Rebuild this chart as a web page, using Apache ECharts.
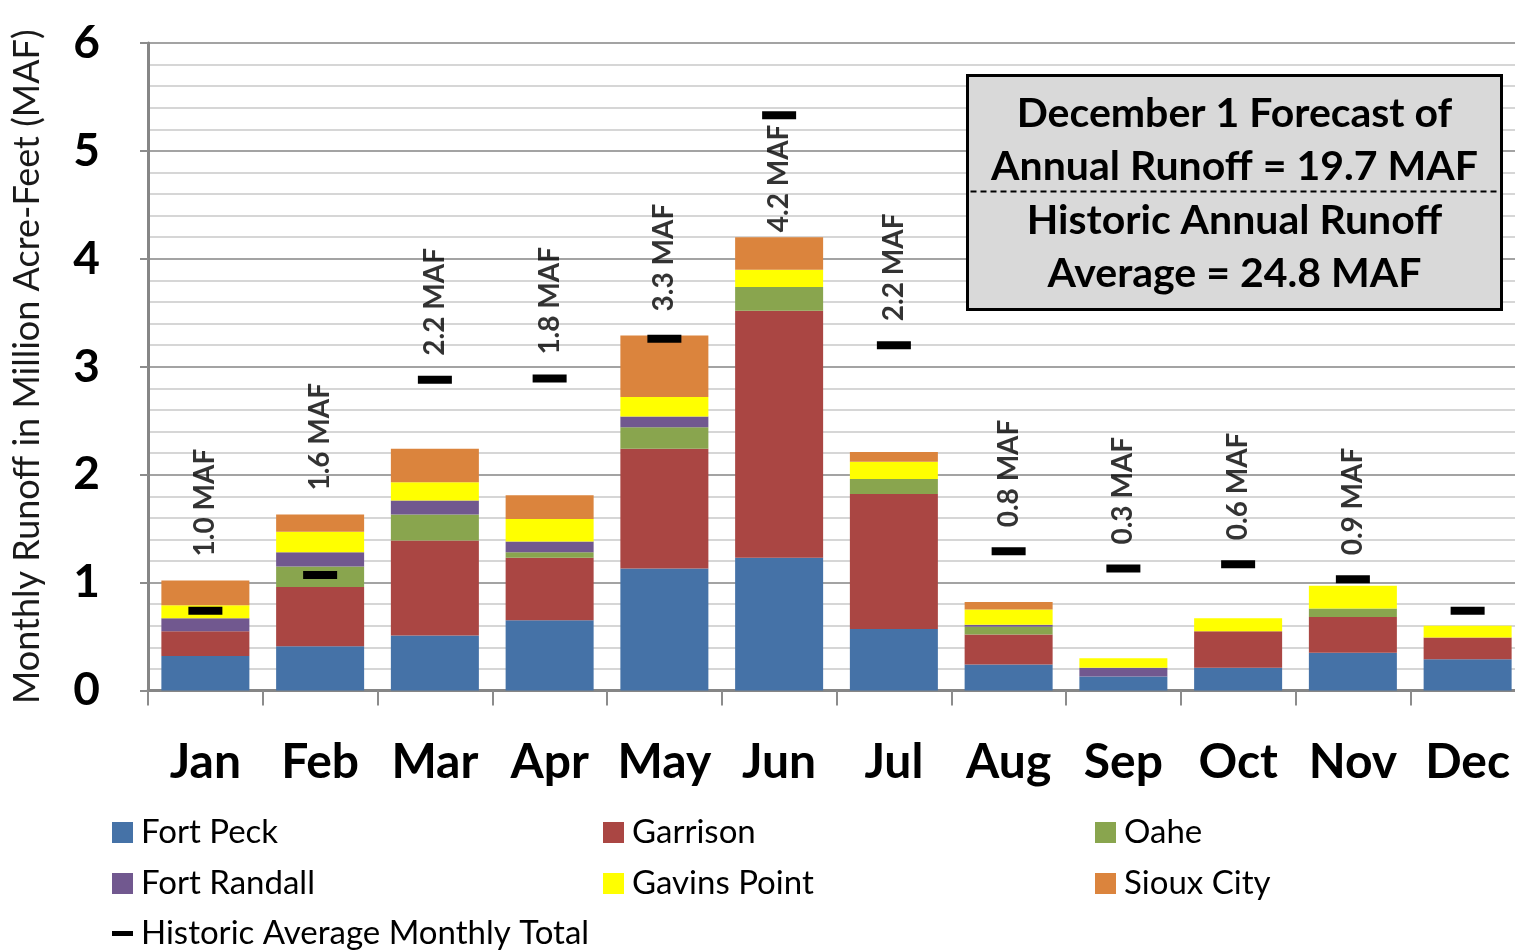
<!DOCTYPE html>
<html>
<head>
<meta charset="utf-8">
<title>Monthly Runoff</title>
<script src="https://cdn.jsdelivr.net/npm/echarts@6/dist/echarts.min.js"></script>
<style>
  html, body { margin: 0; padding: 0; background: #ffffff; }
  #chart { width: 1515px; height: 950px; }
</style>
</head>
<body>
<div id="chart"></div>
<script>
// Monthly runoff forecast by reach, million acre-feet
const months = ['Jan', 'Feb', 'Mar', 'Apr', 'May', 'Jun', 'Jul', 'Aug', 'Sep', 'Oct', 'Nov', 'Dec'];
const fortPeck    = [0.32, 0.41, 0.51, 0.65, 1.13, 1.23, 0.57, 0.24, 0.13, 0.21, 0.35, 0.29];
const garrison    = [0.23, 0.55, 0.88, 0.58, 1.11, 2.29, 1.25, 0.28, 0.00, 0.34, 0.33, 0.20];
const oahe        = [-0.04, 0.19, 0.24, 0.05, 0.20, 0.22, 0.14, 0.07, -0.03, 0.00, 0.08, 0.00];
const fortRandall = [0.12, 0.13, 0.13, 0.10, 0.10, 0.00, -0.02, 0.02, 0.08, -0.03, -0.03, 0.00];
const gavinsPoint = [0.12, 0.19, 0.17, 0.21, 0.18, 0.16, 0.16, 0.14, 0.09, 0.12, 0.21, 0.11];
const siouxCity   = [0.23, 0.16, 0.31, 0.22, 0.57, 0.30, 0.09, 0.07, 0.00, 0.00, 0.00, 0.00];
const historicAvg = [0.74, 1.07, 2.88, 2.89, 3.26, 5.33, 3.20, 1.29, 1.13, 1.17, 1.03, 0.74];
// months that carry a total label
const labelled    = [true, true, true, true, true, true, true, true, true, true, true, false];
const yTicks      = [0, 1, 2, 3, 4, 5, 6];

const reaches = [
  { name: 'Fort Peck',    data: fortPeck,    color: '#4572A7' },
  { name: 'Garrison',     data: garrison,    color: '#AA4643' },
  { name: 'Oahe',         data: oahe,        color: '#89A54E' },
  { name: 'Fort Randall', data: fortRandall, color: '#71588F' },
  { name: 'Gavins Point', data: gavinsPoint, color: '#FFFF00' },
  { name: 'Sioux City',   data: siouxCity,   color: '#DB843D' }
];
const histName = 'Historic Average Monthly Total';

// net monthly total and the height of the positive stack
const totals = months.map((_, i) => reaches.reduce((s, r) => s + r.data[i], 0));
const stackTop = months.map((_, i) => reaches.reduce((s, r) => s + Math.max(0, r.data[i]), 0));
// total labels sit above the bar or the historic marker, whichever is higher;
// when the marker is too high the label hugs the bar instead
const labelOnBar = months.map((_, i) => Math.max(stackTop[i], historicAvg[i]) > 4.5);
const labelAnchor = months.map((_, i) =>
  labelOnBar[i] ? stackTop[i] : Math.max(stackTop[i], historicAvg[i]));

const FONT = 'Lato, "Open Sans", "Noto Sans", sans-serif';

const series = reaches.map(r => ({
  name: r.name,
  type: 'bar',
  stack: 'total',
  barWidth: 88,
  data: r.data,
  itemStyle: { color: r.color },
  emphasis: { disabled: true }
}));

series.push({
  name: histName,
  type: 'scatter',
  symbol: 'rect',
  symbolSize: [34, 8],
  z: 5,
  data: historicAvg,
  itemStyle: { color: '#000000', opacity: 1 },
  emphasis: { disabled: true }
});

series.push({
  name: 'totals',
  type: 'scatter',
  symbolSize: 0,
  silent: true,
  z: 6,
  data: labelAnchor.map((v, i) => labelled[i]
    ? { value: v, label: { distance: labelOnBar[i] ? 5 : 24 } }
    : null),
  label: {
    show: true,
    position: 'top',
    distance: 24,
    rotate: 90,
    align: 'left',
    verticalAlign: 'middle',
    fontFamily: FONT,
    fontWeight: 'bold',
    fontSize: 28,
    color: '#000000',
    formatter: p => totals[p.dataIndex].toFixed(1) + ' MAF'
  }
});

function legendItem(name, left, top, icon, w, h) {
  return {
    data: [{ name: name, icon: icon }],
    left: left,
    top: top,
    itemWidth: w,
    itemHeight: h,
    padding: 0,
    selectedMode: false,
    textStyle: { fontFamily: FONT, fontSize: 33, color: '#000000', padding: [0, 0, 0, 3] }
  };
}

const legends = [
  legendItem('Fort Peck', 112, 816, 'rect', 21, 21),
  legendItem('Garrison', 603, 816, 'rect', 21, 21),
  legendItem('Oahe', 1095, 816, 'rect', 21, 21),
  legendItem('Fort Randall', 112, 867, 'rect', 21, 21),
  legendItem('Gavins Point', 603, 867, 'rect', 21, 21),
  legendItem('Sioux City', 1095, 867, 'rect', 21, 21),
  legendItem(histName, 112, 917, 'rect', 21, 5)
];

const chart = echarts.init(document.getElementById('chart'));

const boxText = (text, y) => ({
  type: 'text',
  x: 267,
  y: y,
  z: 12,
  style: {
    text: text,
    fontFamily: FONT,
    fontWeight: 'bold',
    fontSize: 41,
    fill: '#000000',
    align: 'center',
    verticalAlign: 'middle'
  }
});

chart.setOption({
  animation: false,
  backgroundColor: '#ffffff',
  grid: { left: 148, right: -10, top: 43, bottom: 259.5, containLabel: false, outerBoundsMode: 'none' },
  legend: legends,
  xAxis: {
    type: 'category',
    data: months,
    axisLine: { lineStyle: { color: '#868686', width: 3 } },
    axisTick: { show: true, length: 15, interval: 0, lineStyle: { color: '#8c8c8c', width: 2 } },
    axisLabel: {
      margin: 48,
      interval: 0,
      fontFamily: FONT,
      fontWeight: 'bold',
      fontSize: 48,
      color: '#000000'
    }
  },
  yAxis: {
    type: 'value',
    min: yTicks[0],
    max: yTicks[yTicks.length - 1],
    interval: 1,
    name: 'Monthly Runoff in Million Acre-Feet (MAF)',
    nameLocation: 'middle',
    nameRotate: 90,
    nameGap: 103,
    nameTextStyle: { fontFamily: FONT, fontSize: 36, color: '#1a1a1a' },
    axisLine: { show: true, lineStyle: { color: '#868686', width: 3 } },
    axisTick: { show: true, length: 8, lineStyle: { color: '#8c8c8c', width: 2 } },
    axisLabel: {
      margin: 48,
      fontFamily: FONT,
      fontWeight: 'bold',
      fontSize: 46,
      color: '#000000'
    },
    splitLine: { show: true, lineStyle: { color: '#a3a3a3', width: 2 } },
    minorTick: { show: false, splitNumber: 5 },
    minorSplitLine: { show: true, lineStyle: { color: '#d6d6d6', width: 2 } }
  },
  series: series,
  graphic: [
    {
      type: 'group',
      left: 966,
      top: 74,
      z: 10,
      children: [
        {
          type: 'rect',
          z: 10,
          shape: { x: 0, y: 0, width: 534, height: 234 },
          style: { fill: '#d9d9d9', stroke: '#000000', lineWidth: 3 }
        },
        {
          type: 'line',
          z: 11,
          shape: { x1: 3, y1: 116, x2: 531, y2: 116 },
          style: { stroke: '#000000', lineWidth: 2, lineDash: [6, 4] }
        },
        boxText('December 1 Forecast of', 38),
        boxText('Annual Runoff = 19.7 MAF', 91),
        boxText('Historic Annual Runoff', 145),
        boxText('Average = 24.8 MAF', 198)
      ]
    }
  ]
});
</script>
</body>
</html>
